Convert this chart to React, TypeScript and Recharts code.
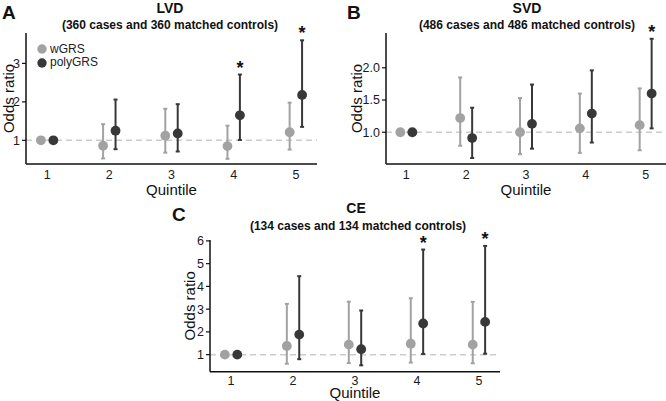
import React from 'react';
import { ScatterChart, Scatter, XAxis, YAxis, ErrorBar, ReferenceLine, Legend } from 'recharts';

const quintiles = [1, 2, 3, 4, 5];
const seriesNames = ['wGRS', 'polyGRS'];

// LVD (panel A)
const lvdW = [1, 0.86, 1.12, 0.85, 1.21];
const lvdWLo = [1, 0.53, 0.68, 0.52, 0.76];
const lvdWHi = [1, 1.42, 1.82, 1.38, 1.98];
const lvdP = [1, 1.25, 1.18, 1.65, 2.18];
const lvdPLo = [1, 0.77, 0.71, 1.01, 1.35];
const lvdPHi = [1, 2.06, 1.94, 2.71, 3.6];
const lvdSig = [false, false, false, true, true];

// SVD (panel B)
const svdW = [1, 1.22, 1.0, 1.06, 1.11];
const svdWLo = [1, 0.79, 0.66, 0.68, 0.72];
const svdWHi = [1, 1.85, 1.53, 1.6, 1.68];
const svdP = [1, 0.91, 1.13, 1.29, 1.6];
const svdPLo = [1, 0.6, 0.745, 0.84, 1.06];
const svdPHi = [1, 1.38, 1.74, 1.96, 2.45];
const svdSig = [false, false, false, false, true];

// CE (panel C)
const ceW = [1, 1.38, 1.44, 1.48, 1.44];
const ceWLo = [1, 0.6, 0.63, 0.65, 0.62];
const ceWHi = [1, 3.23, 3.33, 3.48, 3.32];
const ceP = [1, 1.88, 1.24, 2.37, 2.44];
const cePLo = [1, 0.8, 0.53, 1.03, 1.04];
const cePHi = [1, 4.45, 2.94, 5.62, 5.78];
const ceSig = [false, false, false, true, true];

const W_COLOR = '#a2a2a2';
const P_COLOR = '#383838';
const DODGE = 0.1;
const FONT = '"Liberation Sans", Arial, Helvetica, sans-serif';

const build = (or: number[], lo: number[], hi: number[], shift: number) =>
  quintiles.map((q, i) => ({ x: q + shift, y: or[i], err: [or[i] - lo[i], hi[i] - or[i]] }));

const stars = (hi: number[], sig: boolean[]) =>
  quintiles.map((q, i) => ({ x: q + DODGE, y: hi[i] })).filter((_, i) => sig[i]);

const LegendBox = ({ payload }: any) => (
  <div style={{ fontSize: 12, lineHeight: '13.4px', color: '#222', fontFamily: FONT }}>
    {(payload || [])
      .filter((e: any) => seriesNames.includes(e.value))
      .sort((a: any, b: any) => seriesNames.indexOf(a.value) - seriesNames.indexOf(b.value))
      .map((e: any) => (
        <div key={e.value} style={{ display: 'flex', alignItems: 'center' }}>
          <svg width={10} height={10} style={{ marginRight: 3 }}>
            <circle cx={5} cy={5} r={4.7} fill={e.color} />
          </svg>
          {e.value}
        </div>
      ))}
  </div>
);

interface PanelProps {
  left: number;
  top: number;
  width: number;
  height: number;
  margin: { top: number; right: number; bottom: number; left: number };
  yAxisWidth: number;
  xAxisHeight: number;
  yDomain: [number, number];
  yTicks: number[];
  yFmt: (v: number) => string;
  yLabelOffset: number;
  xLabelOffset: number;
  xTickMargin: number;
  or: number[][];
  sig: boolean[];
  legend?: boolean;
}

const Panel: React.FC<PanelProps> = (p) => {
  const wData = build(p.or[0], p.or[1], p.or[2], -DODGE);
  const pData = build(p.or[3], p.or[4], p.or[5], DODGE);
  const sData = stars(p.or[5], p.sig);
  const tick = { fontSize: 12.5, fill: '#1a1a1a', fontFamily: FONT };
  return (
    <div style={{ position: 'absolute', left: p.left, top: p.top }}>
      <ScatterChart width={p.width} height={p.height} margin={p.margin}>
        <XAxis
          type="number"
          dataKey="x"
          domain={[0.66, 5.34]}
          ticks={quintiles}
          tickSize={0}
          tickMargin={p.xTickMargin}
          height={p.xAxisHeight}
          axisLine={{ stroke: '#111', strokeWidth: 1.5 }}
          tick={tick}
          label={{ value: 'Quintile', position: 'insideBottom', offset: p.xLabelOffset, style: { fontSize: 15, fill: '#111', fontFamily: FONT } }}
        />
        <YAxis
          type="number"
          dataKey="y"
          domain={p.yDomain}
          ticks={p.yTicks}
          tickFormatter={p.yFmt}
          width={p.yAxisWidth}
          tickSize={4}
          tickMargin={2}
          axisLine={{ stroke: '#111', strokeWidth: 1.5 }}
          tickLine={{ stroke: '#111', strokeWidth: 1.2 }}
          tick={tick}
          label={{ value: 'Odds ratio', angle: -90, position: 'insideLeft', offset: p.yLabelOffset, style: { textAnchor: 'middle', fontSize: 15, fill: '#111', fontFamily: FONT } }}
        />
        <ReferenceLine y={1} stroke="#cccccc" strokeDasharray="6 4" strokeWidth={1.5} />
        <Scatter
          name="wGRS"
          data={wData}
          fill={W_COLOR}
          isAnimationActive={false}
          shape={(s: any) => <circle cx={s.cx} cy={s.cy} r={4.9} fill={W_COLOR} />}
        >
          <ErrorBar dataKey="err" direction="y" width={2} stroke={W_COLOR} strokeWidth={2} />
        </Scatter>
        <Scatter
          name="polyGRS"
          data={pData}
          fill={P_COLOR}
          isAnimationActive={false}
          shape={(s: any) => <circle cx={s.cx} cy={s.cy} r={4.9} fill={P_COLOR} />}
        >
          <ErrorBar dataKey="err" direction="y" width={2} stroke={P_COLOR} strokeWidth={2} />
        </Scatter>
        <Scatter
          name="sig"
          data={sData}
          legendType="none"
          isAnimationActive={false}
          shape={(s: any) => (
            <text x={s.cx} y={s.cy - 1} textAnchor="middle" fontSize={18} fontWeight="bold" fill="#111" fontFamily={FONT}>
              *
            </text>
          )}
        />
        {p.legend && (
          <Legend
            layout="vertical"
            align="center"
            verticalAlign="middle"
            wrapperStyle={{ left: 37, top: 42.5, width: 'auto' }}
            content={<LegendBox />}
          />
        )}
      </ScatterChart>
    </div>
  );
};

const titleStyle = { fontFamily: FONT, fontWeight: 'bold' as const, fill: '#111' };

export default function App() {
  return (
    <div style={{ position: 'absolute', left: 0, top: 0, width: 666, height: 401, background: '#fff', fontFamily: FONT }}>
      <Panel
        left={0}
        top={0}
        width={330}
        height={200}
        margin={{ top: 33, right: 13, bottom: 0, left: 6 }}
        yAxisWidth={20}
        xAxisHeight={36}
        yDomain={[0.385, 3.79]}
        yTicks={[1, 2, 3]}
        yFmt={(v) => String(v)}
        yLabelOffset={2.5}
        xLabelOffset={5}
        xTickMargin={6.5}
        or={[lvdW, lvdWLo, lvdWHi, lvdP, lvdPLo, lvdPHi]}
        sig={lvdSig}
        legend
      />
      <Panel
        left={330}
        top={0}
        width={336}
        height={200}
        margin={{ top: 33, right: 0, bottom: 0, left: 23 }}
        yAxisWidth={33}
        xAxisHeight={36}
        yDomain={[0.507, 2.54]}
        yTicks={[1, 1.5, 2]}
        yFmt={(v) => v.toFixed(1)}
        yLabelOffset={4}
        xLabelOffset={5}
        xTickMargin={6.5}
        or={[svdW, svdWLo, svdWHi, svdP, svdPLo, svdPHi]}
        sig={svdSig}
      />
      <Panel
        left={130}
        top={190}
        width={380}
        height={211}
        margin={{ top: 50, right: 10, bottom: 0, left: 52 }}
        yAxisWidth={28}
        xAxisHeight={29.3}
        yDomain={[0.25, 6.04]}
        yTicks={[1, 2, 3, 4, 5, 6]}
        yFmt={(v) => String(v)}
        yLabelOffset={8}
        xLabelOffset={3.5}
        xTickMargin={4}
        or={[ceW, ceWLo, ceWHi, ceP, cePLo, cePHi]}
        sig={ceSig}
      />
      <svg width={666} height={401} style={{ position: 'absolute', left: 0, top: 0, pointerEvents: 'none' }}>
        <text x={2} y={18.5} fontSize={19} {...titleStyle}>A</text>
        <text x={170} y={13} fontSize={14} textAnchor="middle" {...titleStyle}>LVD</text>
        <text x={170} y={28.5} fontSize={12} textAnchor="middle" {...titleStyle}>(360 cases and 360 matched controls)</text>
        <text x={347} y={18.5} fontSize={19} {...titleStyle}>B</text>
        <text x={527} y={13} fontSize={14} textAnchor="middle" {...titleStyle}>SVD</text>
        <text x={527} y={28.5} fontSize={12} textAnchor="middle" {...titleStyle}>(486 cases and 486 matched controls)</text>
        <text x={172} y={220.5} fontSize={19} {...titleStyle}>C</text>
        <text x={356} y={213} fontSize={14} textAnchor="middle" {...titleStyle}>CE</text>
        <text x={358} y={230} fontSize={12} textAnchor="middle" {...titleStyle}>(134 cases and 134 matched controls)</text>
      </svg>
    </div>
  );
}
